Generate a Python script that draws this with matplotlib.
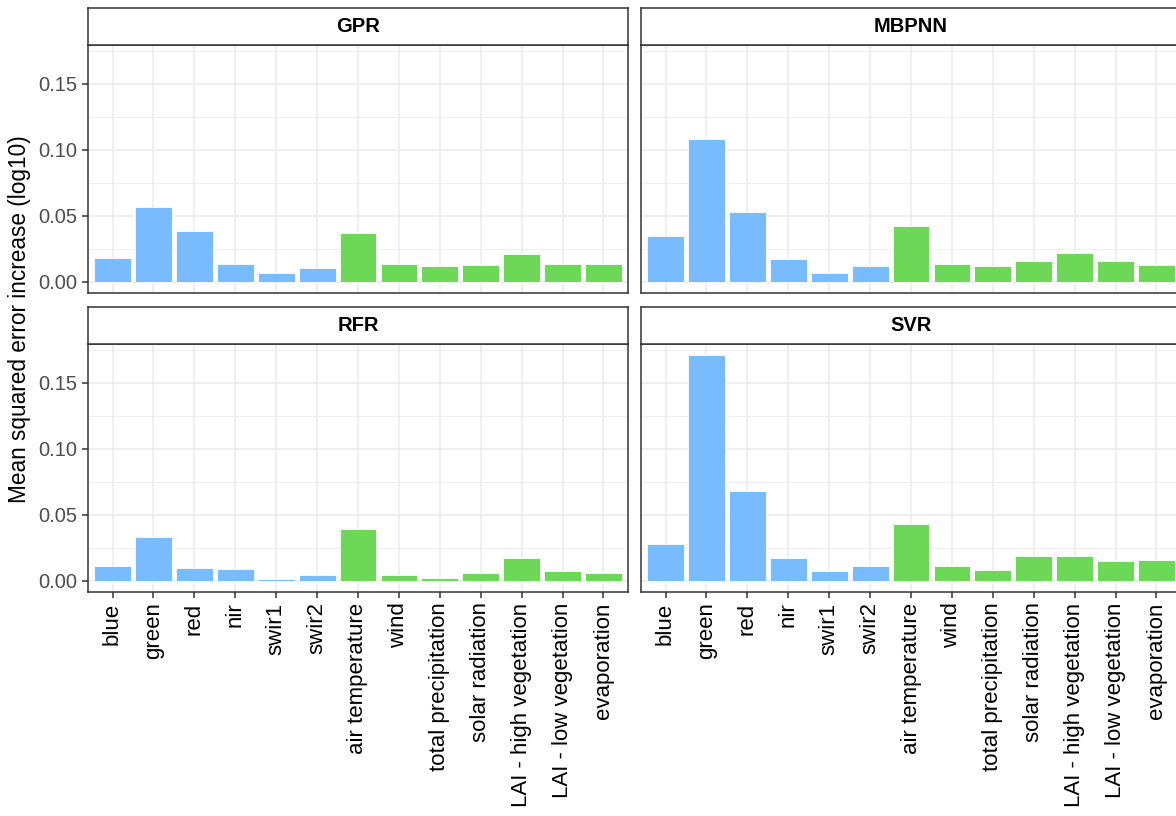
import matplotlib.pyplot as plt
import numpy as np
from matplotlib.ticker import MultipleLocator

plt.rcParams['font.family'] = ['Liberation Sans', 'DejaVu Sans']

variables = ['blue', 'green', 'red', 'nir', 'swir1', 'swir2', 'air temperature',
             'wind', 'total precipitation', 'solar radiation',
             'LAI - high vegetation', 'LAI - low vegetation', 'evaporation']
n_spectral = 6

gpr = [0.0178, 0.0569, 0.0386, 0.0135, 0.0069, 0.0107, 0.0370,
       0.0135, 0.0119, 0.0127, 0.0208, 0.0135, 0.0135]
mbpnn = [0.0348, 0.1086, 0.0528, 0.0170, 0.0069, 0.0119, 0.0419,
         0.0135, 0.0119, 0.0157, 0.0218, 0.0157, 0.0127]
rfr = [0.0112, 0.0332, 0.0096, 0.0089, 0.0013, 0.0041, 0.0390,
       0.0041, 0.0020, 0.0061, 0.0170, 0.0071, 0.0061]
svr = [0.0282, 0.1710, 0.0683, 0.0170, 0.0071, 0.0112, 0.0431,
       0.0112, 0.0081, 0.0190, 0.0190, 0.0150, 0.0160]

models = ['GPR', 'MBPNN', 'RFR', 'SVR']
values = [gpr, mbpnn, rfr, svr]

col_spec = '#78BBFF'
col_met = '#6DD858'
colors = [col_spec] * n_spectral + [col_met] * (len(variables) - n_spectral)

W, H = 1176, 816
fig = plt.figure(figsize=(W / 100, H / 100), dpi=100)

# panel boxes in pixels: left, top, width, height
pw, ph = 540, 248
lefts = [88, 641]
tops = [45, 344]
strip_h = 37

ymax = max(max(v) for v in values)
pad = ymax * 0.05
x = np.arange(1, len(variables) + 1)

for k, (name, vals) in enumerate(zip(models, values)):
    r, c = divmod(k, 2)
    l, t = lefts[c], tops[r]
    ax = fig.add_axes([l / W, 1 - (t + ph) / H, pw / W, ph / H])
    ax.set_axisbelow(True)
    ax.bar(x, vals, width=0.9, color=colors, edgecolor='white', linewidth=0.6)
    ax.set_xlim(0.4, len(variables) + 0.6)
    ax.set_ylim(-pad, ymax + pad)
    ax.yaxis.set_major_locator(MultipleLocator(0.05))
    ax.yaxis.set_minor_locator(MultipleLocator(0.025))
    ax.set_xticks(x)
    ax.grid(which='major', color='#EBEBEB', linewidth=1.1)
    ax.grid(which='minor', axis='y', color='#EBEBEB', linewidth=0.55)
    for s in ax.spines.values():
        s.set_color('#333333')
        s.set_linewidth(1.1)
    ax.tick_params(which='minor', length=0)
    ax.tick_params(which='major', color='#333333', width=1.1, length=4,
                   labelcolor='#4D4D4D', labelsize=14.5)
    if r == 1:
        ax.set_xticklabels(variables, rotation=90, fontsize=16, color='black')
    else:
        ax.tick_params(axis='x', length=0, labelbottom=False)
    if c == 0:
        ax.set_yticklabels([f'{v:.2f}' for v in ax.get_yticks()])
    else:
        ax.tick_params(axis='y', length=0, labelleft=False)
    ax.set_ylim(-pad, ymax + pad)

    # facet strip
    sax = fig.add_axes([l / W, 1 - t / H, pw / W, strip_h / H])
    sax.set_xticks([])
    sax.set_yticks([])
    sax.set_facecolor('white')
    for s in sax.spines.values():
        s.set_color('#333333')
        s.set_linewidth(1.1)
    sax.text(0.5, 0.5, name, ha='center', va='center', fontsize=14.5,
             fontweight='bold', color='black', transform=sax.transAxes)

fig.text(20 / W, 1 - 319 / H, 'Mean squared error increase (log10)',
         rotation=90, ha='center', va='center', fontsize=16.3)

fig.savefig('out.png', dpi=100, facecolor='white')
